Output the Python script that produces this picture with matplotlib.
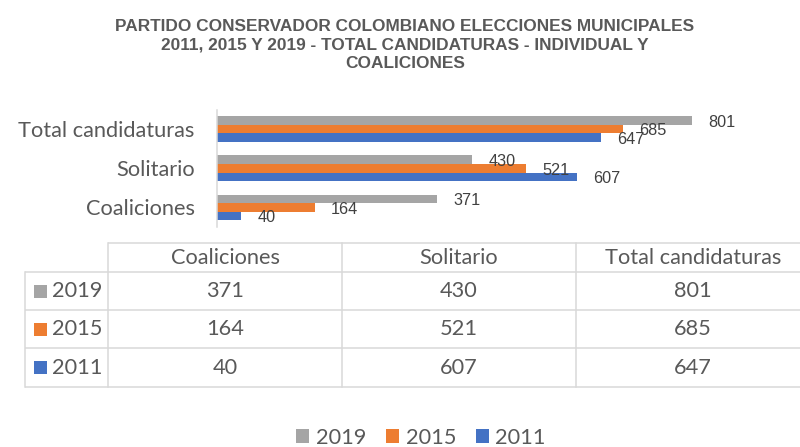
import matplotlib
matplotlib.use('Agg')
import matplotlib.pyplot as plt
from matplotlib.patches import Rectangle

title = ("PARTIDO CONSERVADOR COLOMBIANO ELECCIONES MUNICIPALES\n"
         "2011, 2015 Y 2019 - TOTAL CANDIDATURAS - INDIVIDUAL Y\n"
         "COALICIONES")
categories = ["Coaliciones", "Solitario", "Total candidaturas"]
years = ["2019", "2015", "2011"]
values_2019 = [371, 430, 801]
values_2015 = [164, 521, 685]
values_2011 = [40, 607, 647]
series = {"2019": values_2019, "2015": values_2015, "2011": values_2011}
colors = {"2019": "#A5A5A5", "2015": "#ED7D31", "2011": "#4472C4"}

W, H = 800, 447
fig = plt.figure(figsize=(8, 4.47), dpi=100)


def fx(px):
    return px / W


def fy(py):
    return 1 - py / H


TXT = '#595959'
LBL = '#404040'
GRID = '#D9D9D9'
FONT = 'Lato'
FS = 15.7

# ---- bar chart ----
ax = fig.add_axes([fx(217.5), fy(227), fx(800) - fx(217.5), fy(109.5) - fy(227)])
h = 0.218
offsets = {"2019": h, "2015": 0.0, "2011": -h}
for yr in years:
    vals = series[yr]
    ys = [i + offsets[yr] for i in range(len(categories))]
    ax.barh(ys, vals, height=h, color=colors[yr], label=yr, zorder=2)
    for v, y in zip(vals, ys):
        ax.annotate(str(v), (v, y), xytext=(11.5, -1.3), textcoords='offset points',
                    ha='left', va='center', fontsize=11.7, family='Liberation Sans',
                    color=LBL, zorder=3)

ax.set_xlim(0, 983)
ax.set_ylim(-0.5, len(categories) - 0.5)
ax.set_yticks(range(len(categories)))
ax.set_yticklabels(categories, fontsize=FS, family=FONT, color=TXT)
ax.tick_params(axis='y', length=0, pad=16.5)
ax.set_xticks([])
for s in ['top', 'right', 'bottom']:
    ax.spines[s].set_visible(False)
ax.spines['left'].set_color(GRID)
ax.spines['left'].set_linewidth(1.1)
ax.set_facecolor('none')

# ---- title ----
fig.text(fx(405), fy(45), title, ha='center', va='center', fontsize=12.4,
         fontweight='bold', family='Liberation Sans', color=TXT, linespacing=1.3)

# ---- data table ----
ov = fig.add_axes([0, 0, 1, 1])
ov.set_xlim(0, W)
ov.set_ylim(H, 0)
ov.axis('off')
ov.patch.set_visible(False)

row_y = [243, 272, 310, 348, 387]
col_x = [25, 108, 342, 576, 810]
lw = 1.1
ov.plot([col_x[1], W], [row_y[0], row_y[0]], color=GRID, lw=lw, solid_capstyle='butt')
for y in row_y[1:]:
    ov.plot([col_x[0], W], [y, y], color=GRID, lw=lw, solid_capstyle='butt')
ov.plot([col_x[0], col_x[0]], [row_y[1], row_y[-1]], color=GRID, lw=lw)
for x in col_x[1:4]:
    ov.plot([x, x], [row_y[0], row_y[-1]], color=GRID, lw=lw)

col_centers = [(col_x[j] + col_x[j + 1]) / 2 for j in range(1, 4)]
col_centers[-1] = 693
hdr_y = (row_y[0] + row_y[1]) / 2
for cx, cat in zip(col_centers, categories):
    ov.text(cx, hdr_y, cat, ha='center', va='center', fontsize=FS, family=FONT, color=TXT)

for r, yr in enumerate(years):
    cy = (row_y[r + 1] + row_y[r + 2]) / 2
    ov.add_patch(Rectangle((34, cy - 6.5), 13, 13, facecolor=colors[yr], edgecolor='none'))
    ov.text(52, cy, yr, ha='left', va='center', fontsize=FS, family=FONT, color=TXT)
    for cx, v in zip(col_centers, series[yr]):
        ov.text(cx, cy, str(v), ha='center', va='center', fontsize=FS, family=FONT, color=TXT)

# ---- legend ----
handles = [Rectangle((0, 0), 1, 1, facecolor=colors[yr], edgecolor='none') for yr in years]
leg = fig.legend(handles, years, loc='center', bbox_to_anchor=(fx(421), fy(438)), ncol=3,
                 frameon=False, handlelength=0.6, handleheight=0.6, handletextpad=0.3,
                 columnspacing=0.9, prop={'family': FONT, 'size': FS})
for t in leg.get_texts():
    t.set_color(TXT)

fig.savefig('out.png', dpi=100)
